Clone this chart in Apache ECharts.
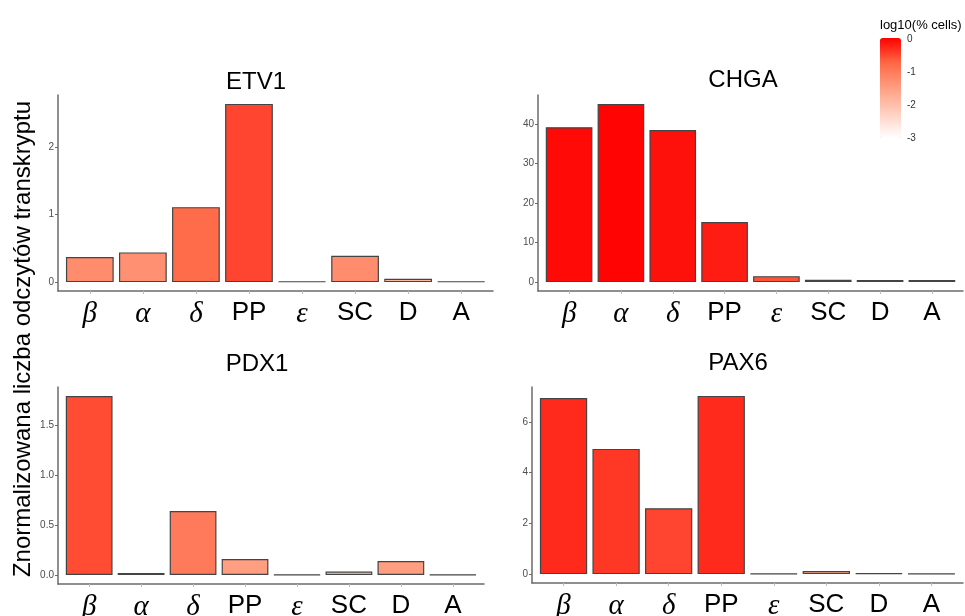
<!DOCTYPE html>
<html><head><meta charset="utf-8">
<script src="https://cdn.jsdelivr.net/npm/echarts@6/dist/echarts.min.js"></script>
<style>html,body{margin:0;padding:0;background:#fff}#c{width:965px;height:616px}</style>
</head><body><div id="c"></div>
<script>
// ---- data ----
const categories = ['β','α','δ','PP','ε','SC','D','A'];
const greek = ['β','α','δ','ε'];
const genes = ['ETV1','CHGA','PDX1','PAX6'];
const etv1Expr = [0.37, 0.44, 1.11, 2.64, 0.01, 0.39, 0.05, 0.01];
const etv1Pct  = [-1.25, -1.3, -0.8, -0.5, -2.5, -1.25, -1.9, -2.8];
const chgaExpr = [39.2, 45.1, 38.5, 15.2, 1.5, 0.6, 0.5, 0.5];
const chgaPct  = [-0.07, -0.03, -0.12, -0.2, -0.6, -0.9, -1.0, -1.0];
const pdx1Expr = [1.79, 0.02, 0.64, 0.16, 0.004, 0.035, 0.14, 0.004];
const pdx1Pct  = [-0.55, -2.2, -1.0, -1.5, -2.8, -2.3, -1.5, -2.8];
const pax6Expr = [6.95, 4.94, 2.6, 7.03, 0.02, 0.12, 0.03, 0.02];
const pax6Pct  = [-0.3, -0.4, -0.5, -0.3, -2.5, -1.6, -2.0, -2.8];
const etv1Ticks = [0, 1, 2];
const chgaTicks = [0, 10, 20, 30, 40];
const pdx1Ticks = [0, 0.5, 1.0, 1.5];
const pax6Ticks = [0, 2, 4, 6];
const legendTicks = [0, -1, -2, -3];
const legendTitle = 'log10(% cells)';
const yTitle = 'Znormalizowana liczba odczytów transkryptu';

// ---- layout ----
const panels = [
  {gene: genes[0], expr: etv1Expr, pct: etv1Pct, ticks: etv1Ticks, dec: 0, left: 58,  width: 435, top: 95,  height: 196, tx: 256, ty: 70},
  {gene: genes[1], expr: chgaExpr, pct: chgaPct, ticks: chgaTicks, dec: 0, left: 538, width: 425, top: 95,  height: 196, tx: 743, ty: 68},
  {gene: genes[2], expr: pdx1Expr, pct: pdx1Pct, ticks: pdx1Ticks, dec: 1, left: 58,  width: 426, top: 387, height: 197, tx: 257, ty: 352},
  {gene: genes[3], expr: pax6Expr, pct: pax6Pct, ticks: pax6Ticks, dec: 0, left: 532, width: 431, top: 387, height: 196, tx: 738, ty: 351}
];
const idx = categories.map((c, i) => i);
const axisColor = '#6b6b6b';

const option = {
  animation: false,
  backgroundColor: '#ffffff',
  title: panels.map(p => ({
    text: p.gene, left: p.tx, top: p.ty, textAlign: 'center', padding: 0,
    textStyle: {fontFamily: 'Liberation Sans', fontSize: 24, fontWeight: 'normal', color: '#000'}
  })),
  grid: panels.map(p => ({left: p.left, top: p.top, width: p.width, height: p.height,
                           containLabel: false, outerBoundsMode: 'none'})),
  xAxis: panels.map((p, i) => ({
    type: 'value', gridIndex: i, min: -0.6, max: categories.length - 0.4,
    splitLine: {show: false},
    axisLine: {show: true, onZero: false, lineStyle: {color: axisColor, width: 1.5}},
    axisTick: {show: true, customValues: idx, length: 3, lineStyle: {color: '#bbb'}},
    axisLabel: {
      customValues: idx, margin: 9, color: '#000', hideOverlap: false,
      formatter: v => {
        const c = categories[Math.round(v)];
        return greek.includes(c) ? '{g|' + c + '}' : '{l|' + c + '}';
      },
      rich: {
        g: {fontFamily: 'Liberation Serif', fontStyle: 'italic', fontSize: 29, color: '#000'},
        l: {fontFamily: 'Liberation Sans', fontSize: 26, color: '#000'}
      }
    }
  })),
  yAxis: panels.map((p, i) => {
    const m = Math.max(...p.expr);
    return {
      type: 'value', gridIndex: i, min: -0.05 * m, max: 1.05 * m,
      splitLine: {show: false},
      axisLine: {show: true, onZero: false, lineStyle: {color: axisColor, width: 1.5}},
      axisTick: {show: true, customValues: p.ticks, length: 3, lineStyle: {color: axisColor}},
      axisLabel: {
        customValues: p.ticks, margin: 4, color: '#4d4d4d', fontSize: 10, fontFamily: 'Liberation Sans',
        formatter: v => v.toFixed(p.dec)
      }
    };
  }),
  visualMap: {
    type: 'continuous', min: -3, max: 0, dimension: 2, seriesIndex: [0, 1, 2, 3],
    calculable: false, orient: 'vertical', left: 880, top: 38, itemWidth: 21, itemHeight: 100,
    padding: 0, text: null, show: true,
    inRange: {color: ['#FFFFFF', '#FFCFBF', '#FF9E81', '#FF6846', '#FF0000']}
  },
  series: panels.map((p, i) => ({
    type: 'bar', xAxisIndex: i, yAxisIndex: i, barWidth: '90%',
    itemStyle: {borderColor: '#444', borderWidth: 1.2},
    data: p.expr.map((v, k) => [k, v, p.pct[k]])
  })),
  graphic: [
    {type: 'text', x: 23, y: 339, rotation: Math.PI / 2,
     style: {text: yTitle, x: 0, y: 0, textAlign: 'center', textVerticalAlign: 'middle',
             font: '24px "Liberation Sans"', fill: '#000'}},
    {type: 'text', x: 880, y: 25,
     style: {text: legendTitle, textAlign: 'left', textVerticalAlign: 'middle',
             font: '13px "Liberation Sans"', fill: '#000'}}
  ].concat(legendTicks.map(t => ({
    type: 'text', x: 907, y: 39 + (-t) / 3 * 99,
    style: {text: String(t), textAlign: 'left', textVerticalAlign: 'middle',
            font: '10px "Liberation Sans"', fill: '#333'}
  })))
};

const chart = echarts.init(document.getElementById('c'), null, {renderer: 'canvas'});
chart.setOption(option);
</script>
</body></html>
